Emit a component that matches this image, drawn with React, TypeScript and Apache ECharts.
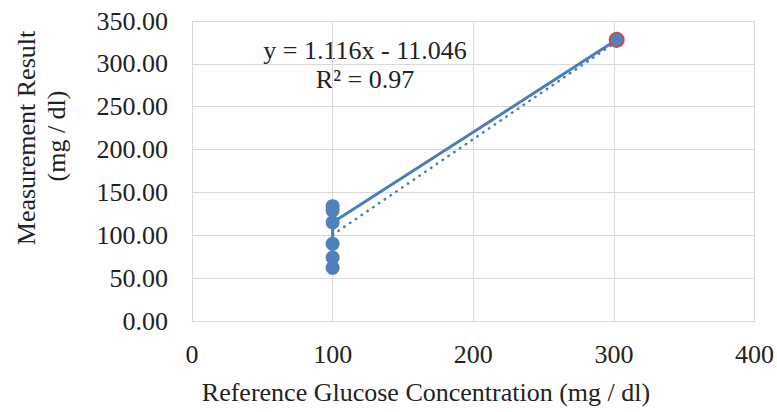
import React, { useEffect, useRef } from "react";
import * as echarts from "echarts";

const refConc = [100, 100, 100, 100, 100, 100, 302];
const measured = [62, 74, 90, 134, 129, 115, 328];
const trendSlope = 1.116;
const trendIntercept = -11.046;
const trendRange = [100, 302];
const xTicks = [0, 100, 200, 300, 400];
const yTicks = [0, 50, 100, 150, 200, 250, 300, 350];
const eqText = "y = 1.116x - 11.046";
const r2Text = "R² = 0.97";
const xTitle = "Reference Glucose Concentration (mg / dl)";
const yTitle1 = "Measurement Result";
const yTitle2 = "(mg / dl)";

const FAM = "Liberation Serif";
const BLUE = "#4A7EBB";
const MARK = "#4F81BD";
const GRID = "#D9D9D9";
const TXT = "#222";

export default function App() {
  const ref = useRef<HTMLDivElement>(null);
  useEffect(() => {
    if (!ref.current) return;
    const chart = echarts.init(ref.current, undefined, { renderer: "svg" });
    const pts = refConc.map((x, i) => {
      const last = i === refConc.length - 1;
      return last
        ? { value: [x, measured[i]], itemStyle: { color: MARK, borderColor: "#C0504D", borderWidth: 2 } }
        : { value: [x, measured[i]] };
    });
    const trend = trendRange.map((x) => [x, trendSlope * x + trendIntercept]);
    const txt = (text: string, x: number, y: number, rot = 0) => ({
      type: "text",
      x,
      y,
      rotation: rot,
      style: {
        text,
        fontFamily: FAM,
        fontSize: 26,
        fill: TXT,
        align: "center",
        verticalAlign: "middle",
      },
    });
    const label = {
      color: TXT,
      fontFamily: FAM,
      fontSize: 26,
      fontWeight: "normal",
      fontStyle: "normal",
    };
    chart.setOption({
      animation: false,
      textStyle: { fontFamily: FAM, fontSize: 26, color: TXT },
      grid: { left: 192, right: 22, top: 21, bottom: 91 },
      xAxis: {
        type: "value",
        min: xTicks[0],
        max: xTicks[xTicks.length - 1],
        interval: 100,
        axisLine: { show: true, lineStyle: { color: GRID, width: 1 } },
        axisTick: { show: false },
        splitLine: { show: true, lineStyle: { color: GRID, width: 1 } },
        axisLabel: { ...label, margin: 20 },
      },
      yAxis: {
        type: "value",
        min: yTicks[0],
        max: yTicks[yTicks.length - 1],
        interval: 50,
        axisLine: { show: true, lineStyle: { color: GRID, width: 1 } },
        axisTick: { show: false },
        splitLine: { show: true, lineStyle: { color: GRID, width: 1 } },
        axisLabel: {
          ...label,
          margin: 24,
          formatter: (v: number) => v.toFixed(2),
        },
      },
      graphic: [
        txt(eqText, 365, 50),
        txt(r2Text, 365, 79),
        txt(xTitle, 426, 392),
        txt(yTitle1, 26, 138, Math.PI / 2),
        txt(yTitle2, 56, 136, Math.PI / 2),
      ],
      series: [
        {
          type: "line",
          data: trend,
          showSymbol: false,
          symbol: "none",
          z: 1,
          lineStyle: { color: BLUE, width: 2.5, type: [0.5, 6.5], cap: "round" },
        },
        {
          type: "line",
          data: pts,
          symbol: "circle",
          symbolSize: 14,
          showSymbol: true,
          z: 2,
          itemStyle: { color: MARK },
          lineStyle: { color: BLUE, width: 3 },
        },
      ],
    });
    return () => chart.dispose();
  }, []);
  return (
    <div
      ref={ref}
      style={{ position: "fixed", left: 0, top: 0, width: 777, height: 412, background: "#fff" }}
    />
  );
}
